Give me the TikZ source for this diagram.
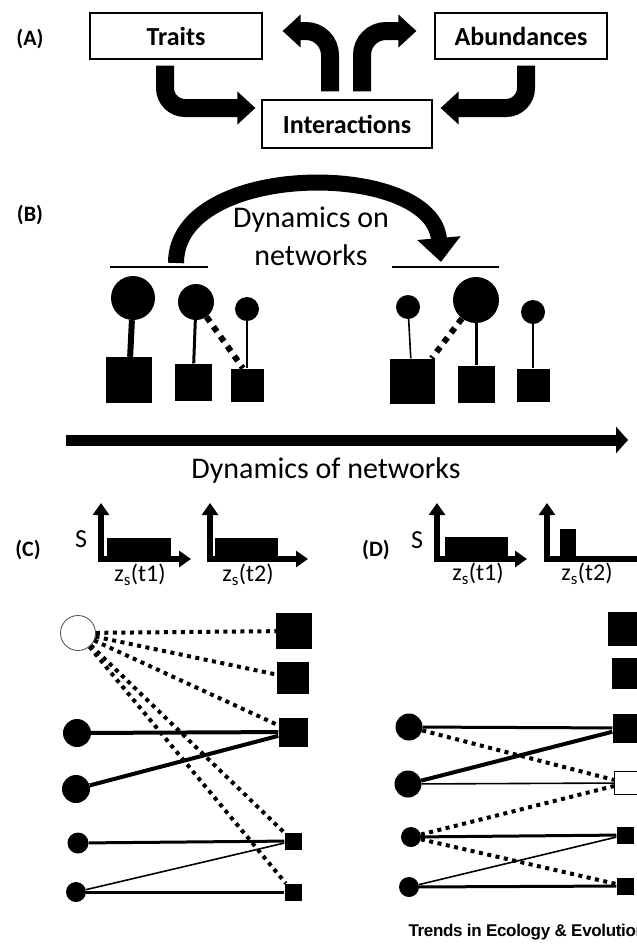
\documentclass[tikz,border=0pt]{standalone}
\usepackage{fontspec}
\setmainfont{Carlito}
\newfontfamily\journalfont[LetterSpace=-2.0]{Liberation Sans}
\usetikzlibrary{arrows.meta}

\tikzset{
  box/.style={draw, line width=1.2pt, minimum width=172pt, minimum height=46pt,
    font=\fontsize{26}{30}\selectfont\bfseries},
  panel/.style={font=\fontsize{22}{26}\selectfont\bfseries},
  bigtext/.style={font=\fontsize{30}{36}\selectfont},
  axtext/.style={font=\fontsize{24}{28}\selectfont},
  fatarrow/.style={line width=18pt, rounded corners=20pt, -{Triangle[length=18pt,width=32pt]}},
  bentarrow/.style={line width=16pt, -{Triangle[length=24pt,width=42pt]}},
  timearrow/.style={line width=11pt, -{Triangle[length=12pt,width=26pt]}},
  axarrow/.style={line width=5.5pt, {Triangle[length=12pt,width=16pt]}-{Triangle[length=12pt,width=16pt]}},
  dot/.style={circle, fill=black, inner sep=0pt},
  opendot/.style={circle, draw=black!70, line width=0.8pt, fill=white, inner sep=0pt},
  sq/.style={rectangle, fill=black, inner sep=0pt},
  opensq/.style={rectangle, draw, line width=1pt, fill=white, inner sep=0pt},
  heavy/.style={line width=6pt},
  strong/.style={line width=4pt},
  medium/.style={line width=3pt},
  weak/.style={line width=1.6pt},
  dots/.style={line width=4pt, dash pattern=on 4pt off 4.5pt},
  bigdots/.style={line width=6pt, dash pattern=on 6pt off 6pt},
}

\begin{document}
\begin{tikzpicture}[x=1pt, y=-1pt]
	\useasboundingbox (0, 0) rectangle (637, 948);
	\clip (0, 0) rectangle (637, 948);

	% (A)
	\node[panel] (la) at (30, 39) {(A)};
	\node[box] (traits) at (176, 36) {Traits};
	\node[box] (abund) at (521, 36) {Abundances};
	\node[box, minimum width=170pt, minimum height=48pt] (inter) at (347, 124) {Interactions};

	\draw[fatarrow, shorten >=6pt] ([xshift=-11pt, yshift=-6pt]traits.south) |- ([yshift=16pt]inter.west);
	\draw[fatarrow, shorten >=8pt] ([xshift=5pt, yshift=-6pt]abund.south) |- ([yshift=16pt]inter.east);
	\draw[fatarrow, rounded corners=24pt, shorten >=20pt] ([xshift=-17pt, yshift=8pt]inter.north) |- ([yshift=5pt]traits.east);
	\draw[fatarrow, rounded corners=24pt, shorten >=18pt] ([xshift=15pt, yshift=8pt]inter.north) |- ([yshift=5pt]abund.west);

	% (B)
	\node[panel] (lb) at (30, 215) {(B)};
	\node[bigtext] (dynon) at (311, 220) {Dynamics on};
	\node[bigtext] (netw) at (311, 255) {networks};

	\draw[line width=1.2pt] (110, 267) -- (208, 267);
	\draw[line width=1.2pt] (392, 267) -- (499, 267);

	\coordinate (onstart) at (176, 263);
	\coordinate (onend) at (441, 262);
	\draw[bentarrow] (onstart) .. controls (176, 160) and (432, 160) .. (onend);

	\node[dot, minimum size=44pt] (c1) at (133, 298) {};
	\node[dot, minimum size=36pt] (c2) at (196, 302) {};
	\node[dot, minimum size=24pt] (c3) at (247, 309) {};
	\node[sq, minimum size=46pt] (s1) at (129, 380) {};
	\node[sq, minimum size=37pt] (s2) at (193, 382) {};
	\node[sq, minimum size=33pt] (s3) at (247, 385) {};

	\draw[heavy] (c1) -- (s1);
	\draw[medium] (c2) -- (s2);
	\draw[weak] (c3) -- (s3);
	\draw[bigdots] (c2) -- ([xshift=-4pt]s3.north);

	\node[dot, minimum size=24pt] (r1) at (408, 307) {};
	\node[dot, minimum size=46pt] (r2) at (476, 300) {};
	\node[dot, minimum size=24pt] (r3) at (533, 312) {};
	\node[sq, minimum size=45pt] (q1) at (412, 381) {};
	\node[sq, minimum size=37pt] (q2) at (476, 384) {};
	\node[sq, minimum size=33pt] (q3) at (533, 385) {};

	\draw[weak] (r1) -- (q1);
	\draw[medium] (r2) -- (q2);
	\draw[weak] (r3) -- (q3);
	\draw[bigdots] (r2) -- ([xshift=-3pt]q1.north east);

	\coordinate (tstart) at (66, 440);
	\coordinate (tend) at (628, 440);
	\draw[timearrow] (tstart) -- (tend);
	\node[bigtext] (dynof) at (326, 470) {Dynamics of networks};

	% (C) and (D) trait distributions
	\node[panel] (lc) at (28, 550) {(C)};
	\node[panel] (ld) at (376, 550) {(D)};
	\node[font=\fontsize{26}{30}\selectfont] (sc) at (81, 539) {S};
	\node[font=\fontsize{26}{30}\selectfont] (sd) at (417, 540) {S};

	\foreach \ox/\tip in {101/191, 210/308, 437/527, 547/650}{
			\draw[axarrow] (\ox, 503) -- (\ox, 559) -- (\tip, 559);
		}

	\fill (107, 538) rectangle (171, 556);
	\fill (215, 538) rectangle (278, 556);
	\fill (445, 537) rectangle (508, 556);
	\fill (560, 529) rectangle (576, 556);

	\node[axtext] (zc1) at (140, 575) {z\textsubscript{s}(t1)};
	\node[axtext] (zc2) at (248, 575) {z\textsubscript{s}(t2)};
	\node[axtext] (zd1) at (478, 574) {z\textsubscript{s}(t1)};
	\node[axtext] (zd2) at (587, 574) {z\textsubscript{s}(t2)};

	% (C) network
	\node[opendot, minimum size=35pt] (lc1) at (78, 633) {};
	\node[dot, minimum size=28pt] (lc2) at (77, 733) {};
	\node[dot, minimum size=28pt] (lc3) at (76, 789) {};
	\node[dot, minimum size=21pt] (lc4) at (78, 843) {};
	\node[dot, minimum size=20pt] (lc5) at (76, 892) {};

	\node[sq, minimum size=36pt] (sq1) at (294, 631) {};
	\node[sq, minimum size=32pt] (sq2) at (293, 678) {};
	\node[sq, minimum size=29pt] (sq3) at (293, 732) {};
	\node[sq, minimum size=17pt] (sq4) at (293, 841) {};
	\node[sq, minimum size=17pt] (sq5) at (293, 892) {};

	\foreach \t in {sq1, sq2, sq3, sq4, sq5}{
			\draw[dots] (lc1) -- (\t);
		}
	\draw[strong] (lc2) -- (sq3);
	\draw[strong] (lc3) -- (sq3);
	\draw[medium] (lc4) -- (sq4);
	\draw[weak] (lc5) -- (sq4);
	\draw[medium] (lc5) -- (sq5);

	% (D) network
	\node[dot, minimum size=27pt] (dc1) at (409, 727) {};
	\node[dot, minimum size=27pt] (dc2) at (408, 784) {};
	\node[dot, minimum size=20pt] (dc3) at (411, 837) {};
	\node[dot, minimum size=20pt] (dc4) at (409, 887) {};

	\node[sq, minimum size=34pt] (dq1) at (625, 629) {};
	\node[sq, minimum size=31pt] (dq2) at (627, 673) {};
	\node[sq, minimum size=29pt] (dq3) at (627, 728) {};
	\node[opensq, minimum size=23pt] (dq4) at (626, 783) {};
	\node[sq, minimum size=17pt] (dq5) at (625, 835) {};
	\node[sq, minimum size=17pt] (dq6) at (625, 886) {};

	\draw[medium] (dc1) -- (dq3);
	\draw[dots] (dc1) -- (dq4);
	\draw[strong] (dc2) -- (dq3);
	\draw[weak] (dc2) -- (dq4);
	\draw[dots] (dc3) -- (dq4);
	\draw[medium] (dc3) -- (dq5);
	\draw[dots] (dc3) -- (dq6);
	\draw[weak] (dc4) -- (dq5);
	\draw[medium] (dc4) -- (dq6);

	\node[anchor=west, font=\journalfont\bfseries\fontsize{17}{20}\selectfont] (journal) at (405, 932) {Trends in Ecology \& Evolution};
\end{tikzpicture}
\end{document}
